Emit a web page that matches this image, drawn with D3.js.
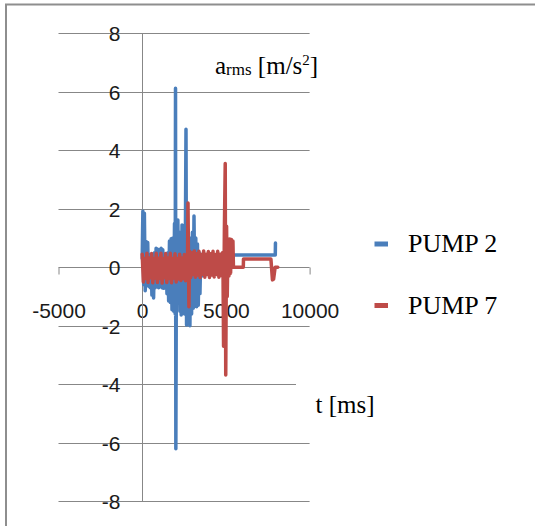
<!DOCTYPE html>
<html>
<head>
<meta charset="utf-8">
<script src="https://cdn.jsdelivr.net/npm/d3@7"></script>
<style>
	body { margin: 0; background: #fff; }
	svg { display: block; }
	.tick text { font-family: "Liberation Sans", Arial, sans-serif; font-size: 21px; fill: #1a1a1a; }
	.serif { font-family: "Liberation Serif", "Times New Roman", serif; fill: #000; }
</style>
</head>
<body>
<svg id="chart" width="535" height="526"></svg>
<script>
// PUMP 2 (blue) - time in ms, a_rms in m/s2
var pump2Time = [0, 40, 90, 130, 180, 230, 280, 330, 380, 430, 480, 530, 580, 630, 680, 730,
	780, 830, 880, 930, 980, 1030, 1080, 1130, 1180, 1230, 1280, 1330, 1380, 1430, 1480, 1530,
	1580, 1630, 1680, 1730, 1780, 1830, 1880, 1930, 1970, 1990, 2010, 2050, 2090, 2130, 2170,
	2210, 2250, 2290, 2330, 2380, 2430, 2480, 2530, 2580, 2616, 2650, 2700, 2750, 2800, 2850,
	2900, 2950, 3000, 3050, 3094, 3150, 3200, 3250, 3300, 3350, 3400, 3450, 3500, 3550, 3600,
	3700, 3800, 3900, 4000, 4100, 4200, 4300, 4400, 4500, 4600, 4700, 4800, 4900, 5000, 7950,
	7960];
var pump2Accel = [0.3, 1.92, -0.6, 1.85, -0.8, 0.88, -0.55, 0.85, -0.65, 0.45, -0.7, 0.4, -0.95,
	0.3, -1.05, 0.5, -0.7, 0.65, -0.6, 0.62, -0.7, 0.6, -0.65, 0.65, -0.7, 0.6, -0.72, 0.45, -0.6,
	0.4, -0.9, 0.5, -1.15, 0.9, -1.2, 0.98, -1.45, 1.0, -1.5, 1.5, -1.6, 6.12, -6.2, 1.6, -1.0,
	1.62, -0.5, 0.8, -1.5, 1.2, -1.63, 1.45, -1.3, 1.4, -1.6, 1.0, 4.72, -1.97, 1.1, -1.9, 0.9,
	-2.0, 1.0, -1.6, 1.2, -1.4, 1.75, -1.3, 1.0, -1.35, 0.8, -1.3, 0.5, -0.9, 0.45, -0.3, 0.4,
	-0.2, 0.4, -0.2, 0.4, -0.2, 0.4, -0.2, 0.4, -0.2, 0.4, -0.2, 0.4, 0.1, 0.42, 0.42, 0.83];

// PUMP 7 (red)
var pump7Time = [0, 70, 140, 210, 280, 350, 420, 490, 560, 630, 700, 770, 840, 910, 980, 1050,
	1120, 1190, 1260, 1330, 1400, 1470, 1540, 1610, 1680, 1750, 1820, 1890, 1960, 2030, 2100,
	2170, 2240, 2310, 2380, 2450, 2520, 2590, 2660, 2700, 2736, 2790, 2830, 2900, 2970, 3040,
	3110, 3180, 3250, 3320, 3390, 3460, 3530, 3600, 3670, 3740, 3810, 3880, 3950, 4020, 4090,
	4160, 4230, 4300, 4370, 4440, 4510, 4580, 4650, 4720, 4790, 4830, 4860, 4910, 4960, 4990,
	5040, 5080, 5130, 5180, 5230, 5280, 5330, 5380, 5420, 5450, 6040, 6050, 7690, 7780, 7850,
	7940, 8100];
var pump7Accel = [0.45, -0.5, 0.3, -0.38, 0.48, -0.52, 0.32, -0.36, 0.47, -0.53, 0.3, -0.37,
	0.48, -0.52, 0.31, -0.38, 0.48, -0.54, 0.3, -0.36, 0.47, -0.52, 0.32, -0.38, 0.48, -0.53, 0.3,
	-0.37, 0.46, -0.5, 0.3, -0.4, 0.45, -0.45, 0.32, -0.38, 0.44, -0.46, 0.35, -0.3, 2.2, -1.35,
	0.55, -0.35, 0.5, -0.25, 0.56, -0.34, 0.46, -0.26, 0.55, -0.35, 0.44, -0.24, 0.56, -0.34, 0.45,
	-0.25, 0.54, -0.35, 0.46, -0.26, 0.55, -0.33, 0.44, -0.25, 0.55, -0.34, 0.45, -0.28, 0.5, -0.3,
	-2.7, 1.3, 3.55, -3.68, 1.4, -1.0, 0.97, -0.3, 0.97, -0.2, 0.95, 0.0, 0.9, 0.0, 0.0, 0.28,
	0.28, -0.43, -0.4, 0.0, 0.0];

var xTicks = [-5000, 0, 5000, 10000];
var yTicks = [-8, -6, -4, -2, 0, 2, 4, 6, 8];
var seriesNames = ["PUMP 2", "PUMP 7"];
var seriesColors = ["#4a7ebb", "#be4b48"];

var svg = d3.select("#chart");

// outer chart frame
svg.append("rect")
	.attr("x", 6).attr("y", 4.5)
	.attr("width", 600).attr("height", 600)
	.attr("fill", "none")
	.attr("stroke", "#8e8e8e")
	.attr("stroke-width", 2);

var x = d3.scaleLinear().domain([-5000, 10000]).range([58.5, 309.6]);
var y = d3.scaleLinear().domain([-8, 8]).range([501.3, 33.3]);

// plain hyphen minus like the original
function plainNum(d) {
	return String(d);
}

// horizontal gridlines
svg.append("g").selectAll("line")
	.data(yTicks.filter(function(d) { return d != 0; }))
	.enter().append("line")
	.attr("x1", x(-5000)).attr("x2", x(10000))
	.attr("y1", function(d) { return Math.round(y(d)) + 0.5; })
	.attr("y2", function(d) { return Math.round(y(d)) + 0.5; })
	.attr("stroke", "#878787")
	.attr("stroke-width", 1);

// axis title box hides the end of one gridline
svg.append("rect")
	.attr("x", 296).attr("y", 379)
	.attr("width", 90).attr("height", 44)
	.attr("fill", "#fff");

// x axis through 0
var xAxis = d3.axisBottom(x).tickValues(xTicks).tickSize(7).tickPadding(29)
	.tickFormat(plainNum);
var gx = svg.append("g")
	.attr("transform", "translate(0," + (Math.round(y(0)) + 0.5) + ")")
	.call(xAxis);
gx.select(".domain").attr("stroke", "#878787").attr("d", "M" + x(-5000) + ",0H" + x(10000));
gx.selectAll(".tick line").attr("stroke", "#878787");
gx.selectAll(".tick text").attr("fill", "#1a1a1a");

// y axis through 0
var yAxis = d3.axisLeft(y).tickValues(yTicks).tickSize(0).tickPadding(22)
	.tickFormat(plainNum);
var gy = svg.append("g")
	.attr("transform", "translate(" + (Math.round(x(0)) + 0.5) + ",0)")
	.call(yAxis);
gy.select(".domain").attr("stroke", "#878787").attr("d", "M0," + y(8) + "V" + y(-8));
gy.selectAll(".tick text").attr("fill", "#1a1a1a").attr("dy", "0.36em");

// series
var line = d3.line()
	.x(function(d) { return x(d[0]); })
	.y(function(d) { return y(d[1]); });

var series = [
	d3.zip(pump2Time, pump2Accel),
	d3.zip(pump7Time, pump7Accel)
];

svg.append("g").selectAll("path")
	.data(series)
	.enter().append("path")
	.attr("d", line)
	.attr("fill", "none")
	.attr("stroke", function(d, i) { return seriesColors[i]; })
	.attr("stroke-width", 3.5)
	.attr("stroke-linejoin", "round")
	.attr("stroke-linecap", "round");

// axis titles
var yTitle = svg.append("text")
	.attr("class", "serif")
	.attr("x", 215).attr("y", 73.5)
	.attr("font-size", 25);
yTitle.append("tspan").text("a");
yTitle.append("tspan").attr("font-size", 17).attr("dy", 1.5).text("rms");
yTitle.append("tspan").attr("dy", -1.5).text(" [m/s");
yTitle.append("tspan").attr("font-size", 15).attr("dy", -9).text("2");
yTitle.append("tspan").attr("dy", 9).text("]");

svg.append("text")
	.attr("class", "serif")
	.attr("x", 315.5).attr("y", 413)
	.attr("font-size", 25)
	.text("t [ms]");

// legend
var legend = svg.append("g").selectAll("g")
	.data(seriesNames)
	.enter().append("g")
	.attr("transform", function(d, i) { return "translate(0," + (i * 61.5) + ")"; });

legend.append("rect")
	.attr("x", 374.5).attr("y", 241.5)
	.attr("width", 13.5).attr("height", 5)
	.attr("fill", function(d, i) { return seriesColors[i]; });

legend.append("text")
	.attr("class", "serif")
	.attr("x", 408).attr("y", 252.3)
	.attr("font-size", 26)
	.text(function(d) { return d; });
</script>
</body>
</html>
